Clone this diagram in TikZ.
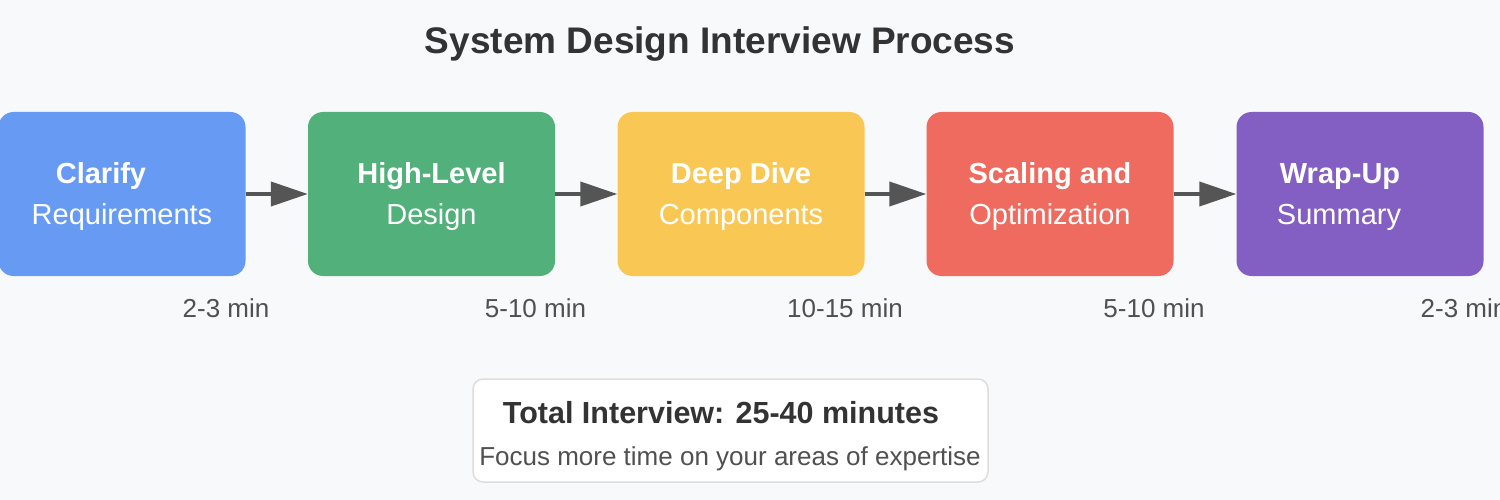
\documentclass[tikz,border=0pt]{standalone}
\usepackage{fontspec}
\setmainfont{Liberation Sans}
\usepackage{tikz}
\usetikzlibrary{positioning,arrows.meta}
\usepackage{xcolor}
\definecolor{bgcol}{HTML}{F8F9FA}
\definecolor{stageblue}{HTML}{679BF3}
\definecolor{stagegreen}{HTML}{52B07A}
\definecolor{stageyellow}{HTML}{F9C854}
\definecolor{stagered}{HTML}{EF6B5F}
\definecolor{stagepurple}{HTML}{845FC3}
\definecolor{arrowgray}{HTML}{555555}
\definecolor{darktext}{HTML}{333333}
\definecolor{timetext}{HTML}{505050}
\definecolor{noteborder}{HTML}{DDDDDD}

\begin{document}
\begin{tikzpicture}[x=1pt,y=-1pt,
  stage/.style={rectangle,rounded corners=15pt,minimum width=247pt,minimum height=164pt,inner sep=0pt},
  flow/.style={draw=arrowgray,line width=4pt,-{Triangle[length=37pt,width=24pt]}},
  headline/.style={anchor=base,white,font=\fontsize{29}{33}\selectfont\bfseries},
  subline/.style={anchor=base,white,font=\fontsize{29}{33}\selectfont},
  timelabel/.style={anchor=base,timetext,font=\fontsize{26}{30}\selectfont}]
\useasboundingbox (0,0) rectangle (1500,500);
\fill[bgcol] (0,0) rectangle (1500,500);
\node (title) at (720,54) [anchor=base,darktext,font=\fontsize{37}{42}\selectfont\bfseries] {System Design Interview Process};
% stages
\foreach \n/\cx/\col/\ta/\tb/\top/\bot/\tm in {
    clar/122/stageblue/101/122/Clarify/Requirements/2-3 min,
    high/431.5/stagegreen/431.5/431.5/High-Level/Design/5-10 min,
    deep/741/stageyellow/741/741/Deep Dive/Components/10-15 min,
    scal/1050/stagered/1050/1050/Scaling and/Optimization/5-10 min,
    wrap/1360/stagepurple/1340/1339/Wrap-Up/Summary/2-3 min} {
    \node[stage,fill=\col] (\n) at (\cx,194) {};
    \node[headline] (\n-top) at (\ta,184) {\top};
    \node[subline] (\n-bot) at (\tb,225) {\bot};
    \node[timelabel] (\n-time) at ({\cx+104},317) {\tm};
}
\draw[flow] (clar.east) -- (high.west);
\draw[flow] (high.east) -- (deep.west);
\draw[flow] (deep.east) -- (scal.west);
\draw[flow] (scal.east) -- (wrap.west);
% total
\node (total) at (730.5,430.5) [rectangle,draw=noteborder,line width=1.5pt,fill=white,rounded corners=10pt,minimum width=515pt,minimum height=103pt] {};
\node (total-head) at (721,423) [anchor=base,darktext,font=\fontsize{30.5}{35}\selectfont\bfseries] {Total Interview: 25-40 minutes};
\node (total-note) at (730,465) [anchor=base,timetext,font=\fontsize{26}{30}\selectfont] {Focus more time on your areas of expertise};
\end{tikzpicture}
\end{document}
